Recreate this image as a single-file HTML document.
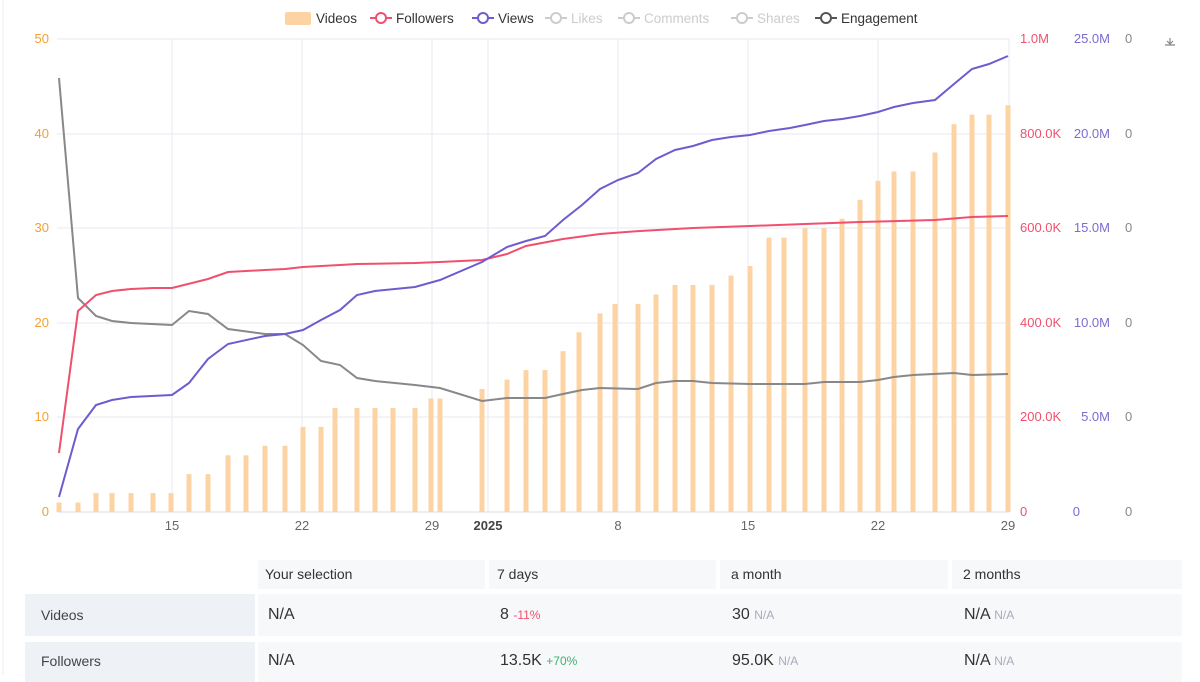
<!DOCTYPE html>
<html><head><meta charset="utf-8"><style>
body{margin:0;width:1200px;height:675px;overflow:hidden;background:#fff;font-family:"Liberation Sans",sans-serif;}
svg{position:absolute;left:0;top:0}
.t{position:absolute;font-size:14px;color:#333}
.c{position:absolute;background:#f7f8fa}
.l{position:absolute;background:#eef2f7}
</style></head><body>
<svg width="1200" height="675" font-family="Liberation Sans, sans-serif" font-size="13">
<line x1="3" y1="0" x2="3" y2="675" stroke="#eee"/>
<g stroke="#e8e9f0" stroke-width="1">
<line x1="57" y1="39" x2="1009" y2="39"/><line x1="57" y1="134" x2="1009" y2="134"/><line x1="57" y1="228" x2="1009" y2="228"/><line x1="57" y1="323" x2="1009" y2="323"/><line x1="57" y1="417" x2="1009" y2="417"/>
<line x1="172" y1="39" x2="172" y2="512"/><line x1="302" y1="39" x2="302" y2="512"/><line x1="432" y1="39" x2="432" y2="512"/><line x1="488" y1="39" x2="488" y2="512"/><line x1="618" y1="39" x2="618" y2="512"/><line x1="748" y1="39" x2="748" y2="512"/><line x1="878" y1="39" x2="878" y2="512"/><line x1="1009" y1="39" x2="1009" y2="512"/>
</g>
<line x1="57" y1="512" x2="1009" y2="512" stroke="#dcdde5"/>
<g fill="#fdd3a4" id="bars"></g>
<polyline fill="none" stroke="#888" stroke-width="2" points="59,78 78,298 96,316 112,321 131,323 172,325 189,311 208,314 228,329 265,334 285,334 303,345 321,361 340,365 357,378 375,381 415,385 440,388 482,401 507,398 545,398 563,394 582,390 600,388 638,389 656,383 675,381 693,381 712,383 750,384 805,384 824,382 860,382 878,380 894,377 913,375 954,373 972,375 1008,374"/>
<polyline fill="none" stroke="#f0506e" stroke-width="2" points="59,453 78,311 96,295 112,291 131,289 153,288 172,288 208,279 228,272 265,270 285,269 303,267 340,265 357,264 415,263 440,262 482,260 507,254 526,246 563,239 600,234 640,231 693,228 750,226 805,224 860,222 935,220 972,217 1008,216"/>
<polyline fill="none" stroke="#6e5ccf" stroke-width="2" points="59,497 78,429 96,405 112,400 131,397 172,395 189,383 208,359 228,344 265,336 285,334 303,330 321,320 340,310 357,295 375,291 415,287 440,280 482,262 507,247 526,241 545,236 563,220 582,205 600,189 618,180 638,173 656,159 675,150 693,146 712,140 731,137 750,135 769,131 790,128 805,125 824,121 842,119 860,116 878,112 894,107 913,103 935,100 954,84 972,69 989,64 1008,56"/>
<g fill="#f5a030" text-anchor="end"><text x="49" y="43">50</text><text x="49" y="138">40</text><text x="49" y="232">30</text><text x="49" y="327">20</text><text x="49" y="421">10</text><text x="49" y="516">0</text></g>
<g fill="#f0506e"><text x="1020" y="43">1.0M</text><text x="1020" y="138">800.0K</text><text x="1020" y="232">600.0K</text><text x="1020" y="327">400.0K</text><text x="1020" y="421">200.0K</text><text x="1020" y="516">0</text></g>
<g fill="#7b6cd0" text-anchor="end"><text x="1110" y="43">25.0M</text><text x="1110" y="138">20.0M</text><text x="1110" y="232">15.0M</text><text x="1110" y="327">10.0M</text><text x="1110" y="421">5.0M</text><text x="1080" y="516">0</text></g>
<g fill="#888"><text x="1125" y="43">0</text><text x="1125" y="138">0</text><text x="1125" y="232">0</text><text x="1125" y="327">0</text><text x="1125" y="421">0</text><text x="1125" y="516">0</text></g>
<g fill="#666" text-anchor="middle"><text x="172" y="530">15</text><text x="302" y="530">22</text><text x="432" y="530">29</text><text x="488" y="530" font-weight="bold" fill="#444">2025</text><text x="618" y="530">8</text><text x="748" y="530">15</text><text x="878" y="530">22</text><text x="1008" y="530">29</text></g>
<path d="M1170 38v6m-3-3l3 3l3-3M1165 45h10" stroke="#888" fill="none" stroke-width="1.2"/>
<g font-size="13.5">
<rect x="285" y="12" width="26" height="13" rx="2" fill="#fdd3a4"/><text x="316" y="23" fill="#333">Videos</text>
<line x1="370" y1="18" x2="392" y2="18" stroke="#f0506e" stroke-width="2"/><circle cx="381" cy="18" r="5" fill="#fff" stroke="#f0506e" stroke-width="2"/><text x="396" y="23" fill="#333">Followers</text>
<line x1="472" y1="18" x2="494" y2="18" stroke="#6e5ccf" stroke-width="2"/><circle cx="483" cy="18" r="5" fill="#fff" stroke="#6e5ccf" stroke-width="2"/><text x="498" y="23" fill="#333">Views</text>
<line x1="545" y1="18" x2="567" y2="18" stroke="#ccc" stroke-width="2"/><circle cx="556" cy="18" r="5" fill="#fff" stroke="#ccc" stroke-width="2"/><text x="571" y="23" fill="#ccc">Likes</text>
<line x1="618" y1="18" x2="640" y2="18" stroke="#ccc" stroke-width="2"/><circle cx="629" cy="18" r="5" fill="#fff" stroke="#ccc" stroke-width="2"/><text x="644" y="23" fill="#ccc">Comments</text>
<line x1="731" y1="18" x2="753" y2="18" stroke="#ccc" stroke-width="2"/><circle cx="742" cy="18" r="5" fill="#fff" stroke="#ccc" stroke-width="2"/><text x="757" y="23" fill="#ccc">Shares</text>
<line x1="815" y1="18" x2="837" y2="18" stroke="#555" stroke-width="2"/><circle cx="826" cy="18" r="5" fill="#fff" stroke="#555" stroke-width="2"/><text x="841" y="23" fill="#333">Engagement</text>
</g>
</svg>
<div class="c" style="left:258px;top:560px;width:227px;height:29px"></div>
<div class="c" style="left:489px;top:560px;width:227px;height:29px"></div>
<div class="c" style="left:720px;top:560px;width:228px;height:29px"></div>
<div class="c" style="left:952px;top:560px;width:230px;height:29px"></div>
<div class="l" style="left:25px;top:594px;width:230px;height:42px"></div>
<div class="c" style="left:258px;top:594px;width:924px;height:42px"></div>
<div class="l" style="left:25px;top:642px;width:230px;height:40px"></div>
<div class="c" style="left:258px;top:642px;width:924px;height:40px"></div>
<div class="t" style="left:265px;top:566px">Your selection</div>
<div class="t" style="left:497px;top:566px">7 days</div>
<div class="t" style="left:731px;top:566px">a month</div>
<div class="t" style="left:963px;top:566px">2 months</div>
<div class="t" style="left:41px;top:607px;color:#444">Videos</div>
<div class="t" style="left:41px;top:653px;color:#444">Followers</div>
<div class="t" style="left:268px;top:606px;font-size:16px">N/A</div>
<div class="t" style="left:500px;top:606px;font-size:16px">8 <span style="font-size:12px;color:#f0506e">-11%</span></div>
<div class="t" style="left:732px;top:606px;font-size:16px">30 <span style="font-size:12px;color:#aab">N/A</span></div>
<div class="t" style="left:964px;top:606px;font-size:16px">N/A <span style="font-size:12px;color:#aab">N/A</span></div>
<div class="t" style="left:268px;top:652px;font-size:16px">N/A</div>
<div class="t" style="left:500px;top:652px;font-size:16px">13.5K <span style="font-size:12px;color:#3cb371">+70%</span></div>
<div class="t" style="left:732px;top:652px;font-size:16px">95.0K <span style="font-size:12px;color:#aab">N/A</span></div>
<div class="t" style="left:964px;top:652px;font-size:16px">N/A <span style="font-size:12px;color:#aab">N/A</span></div>
<script>
var d=[[59,1],[78,1],[96,2],[112,2],[131,2],[153,2],[171,2],[189,4],[208,4],[228,6],[246,6],[265,7],[285,7],[303,9],[321,9],[335,11],[357,11],[375,11],[393,11],[415,11],[431,12],[440,12],[482,13],[507,14],[526,15],[545,15],[563,17],[579,19],[600,21],[615,22],[638,22],[656,23],[675,24],[693,24],[712,24],[731,25],[750,26],[769,29],[784,29],[805,30],[824,30],[842,31],[860,33],[878,35],[894,36],[913,36],[935,38],[954,41],[972,42],[989,42],[1008,43]];
var g=document.getElementById('bars'),s='';
d.forEach(function(p){var h=p[1]*9.46;s+='<rect x="'+(p[0]-2.5)+'" y="'+(512-h)+'" width="5" height="'+h+'"/>';});
g.innerHTML=s;
</script>
</body></html>
